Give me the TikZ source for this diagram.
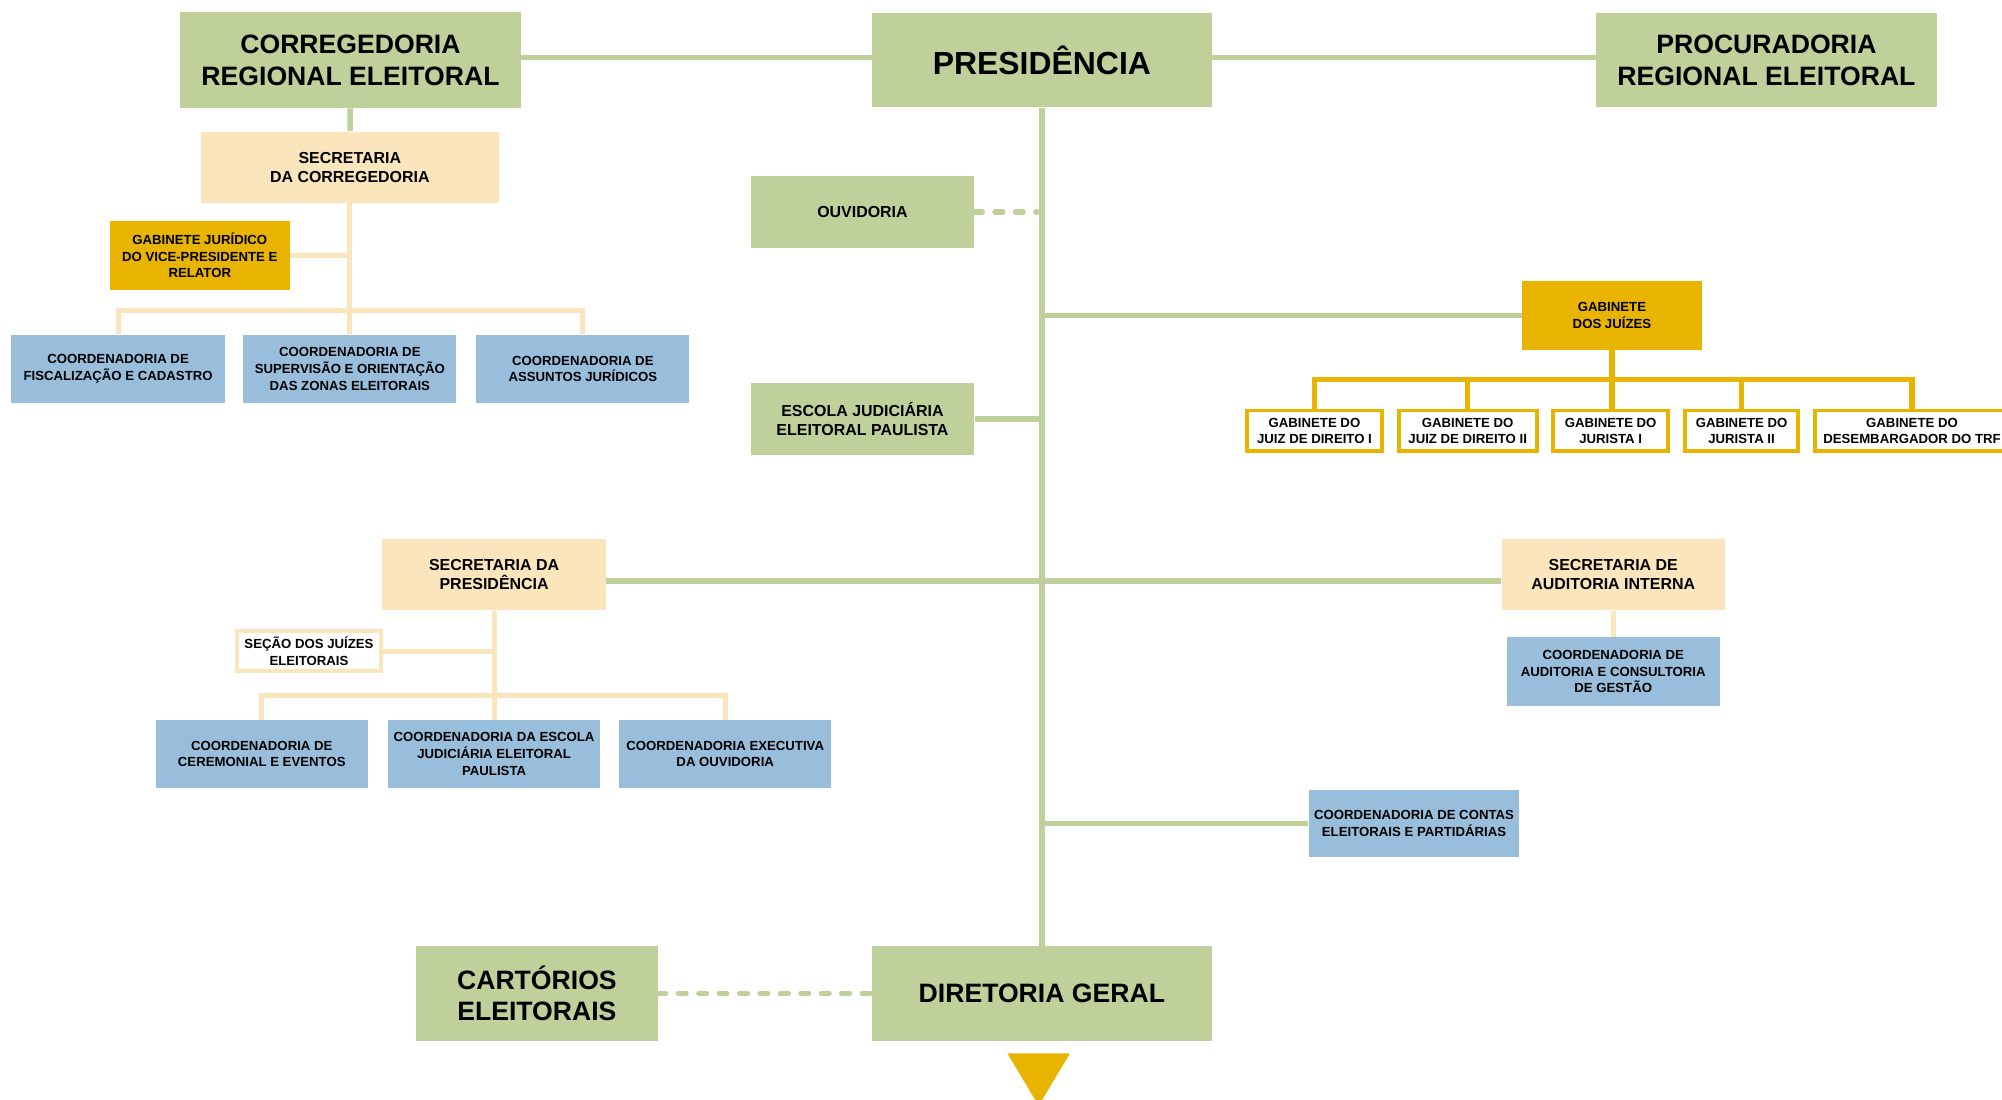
\documentclass[tikz,border=0pt]{standalone}
\usepackage{fontspec}
\setmainfont{Liberation Sans}
\usetikzlibrary{calc}

\definecolor{verde}{RGB}{192,208,154}
\definecolor{bege}{RGB}{250,229,188}
\definecolor{ouro}{RGB}{232,180,0}
\definecolor{azul}{RGB}{153,190,220}

\begin{document}
\begin{tikzpicture}
		[x=0.6pt,y=-0.6pt,
		caixa/.style={inner sep=0pt, align=center, font=\bfseries\fontsize{6.2}{7.8}\selectfont},
		grande/.style={caixa, fill=verde, font=\bfseries\fontsize{12.5}{15}\selectfont},
		media/.style={caixa, font=\bfseries\fontsize{7.5}{9}\selectfont},
		coord/.style={caixa, fill=azul, minimum width=99.6pt, minimum height=31.8pt},
		gab/.style={caixa, draw=ouro, line width=1.8pt, fill=white, minimum height=19.2pt},
		lverde/.style={verde, line width=2.6pt},
		lbege/.style={bege, line width=2.4pt},
		louro/.style={ouro, line width=2.4pt},
		tverde/.style={verde, line width=2.6pt, line cap=round, dash pattern=on 3.6pt off 6pt}]
		\useasboundingbox (0,0) rectangle (1568,861);
		%-----topo
		 \node[grande, minimum width=160.2pt, minimum height=45pt]  (CRE) at (274.5,47) {CORREGEDORIA\\REGIONAL ELEITORAL};
		 \node[grande, minimum width=159.6pt, minimum height=44.4pt, font=\bfseries\fontsize{15}{18}\selectfont]  (PRES) at (816,47) {PRESIDÊNCIA};
		 \node[grande, minimum width=160.2pt, minimum height=44.4pt]  (PRE) at (1383.5,47) {PROCURADORIA\\REGIONAL ELEITORAL};
		%-----corregedoria
		 \node[media, fill=bege, minimum width=139.8pt, minimum height=33.6pt]  (SCR) at (274,131) {SECRETARIA\\DA CORREGEDORIA};
		 \node[caixa, fill=ouro, minimum width=84.6pt, minimum height=32.4pt]  (GJV) at (156.5,200) {GABINETE JURÍDICO\\DO VICE-PRESIDENTE E\\RELATOR};
		 \node[coord, minimum width=100.2pt, minimum height=32.4pt]  (CFC) at (92.5,289) {COORDENADORIA DE\\FISCALIZAÇÃO E CADASTRO};
		 \node[coord, minimum width=100.2pt, minimum height=32.4pt]  (CSO) at (274,289) {COORDENADORIA DE\\SUPERVISÃO E ORIENTAÇÃO\\DAS ZONAS ELEITORAIS};
		 \node[coord, minimum width=100.2pt, minimum height=32.4pt]  (CAJ) at (456.5,289) {COORDENADORIA DE\\ASSUNTOS JURÍDICOS};
		 \coordinate (jC) at (274,243);
		%-----presidencia
		 \node[media, fill=verde, minimum width=105pt, minimum height=33.6pt]  (OUV) at (675.5,166) {OUVIDORIA};
		 \node[media, fill=verde, minimum width=105pt, minimum height=33.6pt]  (EJE) at (675.5,328) {ESCOLA JUDICIÁRIA\\ELEITORAL PAULISTA};
		 \node[caixa, fill=ouro, minimum width=84.6pt, minimum height=32.4pt]  (GDJ) at (1262.5,247) {GABINETE\\DOS JUÍZES};
		 \node[gab, minimum width=63.6pt]  (GJ1) at (1029.5,337.5) {GABINETE DO\\JUIZ DE DIREITO I};
		 \node[gab, minimum width=64.8pt]  (GJ2) at (1149.5,337.5) {GABINETE DO\\JUIZ DE DIREITO II};
		 \node[gab, minimum width=54pt]  (GU1) at (1261.5,337.5) {GABINETE DO\\JURISTA I};
		 \node[gab, minimum width=53.4pt]  (GU2) at (1364,337.5) {GABINETE DO\\JURISTA II};
		 \node[gab, minimum width=91.2pt]  (GTR) at (1497.5,337.5) {GABINETE DO\\DESEMBARGADOR DO TRF};
		 \coordinate (jG) at (1262.5,297);
		%-----secretarias
		 \node[media, fill=bege, minimum width=105pt, minimum height=33.6pt]  (SPR) at (387,450) {SECRETARIA DA\\PRESIDÊNCIA};
		 \node[media, fill=bege, minimum width=105pt, minimum height=33.6pt]  (SAI) at (1263.5,450) {SECRETARIA DE\\AUDITORIA INTERNA};
		 \node[coord, minimum width=100.2pt, minimum height=32.4pt]  (CAC) at (1263.5,526) {COORDENADORIA DE\\AUDITORIA E CONSULTORIA\\DE GESTÃO};
		 \node[caixa, draw=bege, line width=1.8pt, fill=white, minimum width=67.8pt, minimum height=18.6pt]  (SJE) at (242,510) {SEÇÃO DOS JUÍZES\\ELEITORAIS};
		 \node[coord]  (CCE) at (205,590.5) {COORDENADORIA DE\\CEREMONIAL E EVENTOS};
		 \node[coord]  (CEJ) at (387,590.5) {COORDENADORIA DA ESCOLA\\JUDICIÁRIA ELEITORAL\\PAULISTA};
		 \node[coord]  (CEO) at (568,590.5) {COORDENADORIA EXECUTIVA\\DA OUVIDORIA};
		 \coordinate (jP) at (387,545);
		 \node[coord, minimum width=99pt]  (CCP) at (1107.5,645) {COORDENADORIA DE CONTAS\\ELEITORAIS E PARTIDÁRIAS};
		%-----base
		 \node[grande, minimum width=159.6pt, minimum height=44.4pt]  (DG) at (816,778) {DIRETORIA GERAL};
		 \node[grande, minimum width=113.4pt, minimum height=44.4pt]  (CAR) at (420.5,778) {CARTÓRIOS\\ELEITORAIS};
		 \fill[ouro] (789,825) -- (838,825) -- (813.5,866) -- cycle;

		 % ligacoes verdes
		 \foreach \from/\to in {CRE/PRES, PRES/PRE}
		 \draw[lverde] ($(\from.east)+(0,-2)$) -- ($(\to.west)+(0,-2)$);
		 \foreach \from/\to in {PRES/DG, CRE/SCR}
		 \draw[lverde] (\from) -- (\to);
		 \draw[lverde] ($(SPR.east)+(0,5)$) -- ($(SAI.west)+(0,5)$);
		 \foreach \n in {GDJ, CCP}
		 \draw[lverde] (\n.west) -- (\n.west -| PRES.south);
		 \draw[lverde] (EJE.east) -- (EJE.east -| PRES.south);
		 \draw[tverde] (OUV.east) -- ($(OUV.east -| PRES.south)+(-4,0)$);
		 \draw[tverde] (CAR.east) -- (DG.west);

		 % ligacoes beges
		 \draw[lbege] (SCR.south) -- (CSO.north);
		 \draw[lbege] (GJV.east) -- (GJV.east -| SCR.south);
		 \draw[lbege] (CFC.north) |- (jC) -| (CAJ.north);
		 \draw[lbege] (SPR.south) -- (CEJ.north);
		 \draw[lbege] (SJE.east) -- (SJE.east -| SPR.south);
		 \draw[lbege] (CCE.north) |- (jP) -| (CEO.north);
		 \draw[lbege] (SAI.south) -- (CAC.north);

		 % ligacoes ouro
		 \draw[louro] (GDJ.south) -- (GU1.north -| GDJ.south);
		 \draw[louro] (GJ1.north) |- (jG) -| (GTR.north);
		 \foreach \n in {GJ2, GU2}
		 \draw[louro] (\n.north) -- (\n.north |- jG);
\end{tikzpicture}
\end{document}
